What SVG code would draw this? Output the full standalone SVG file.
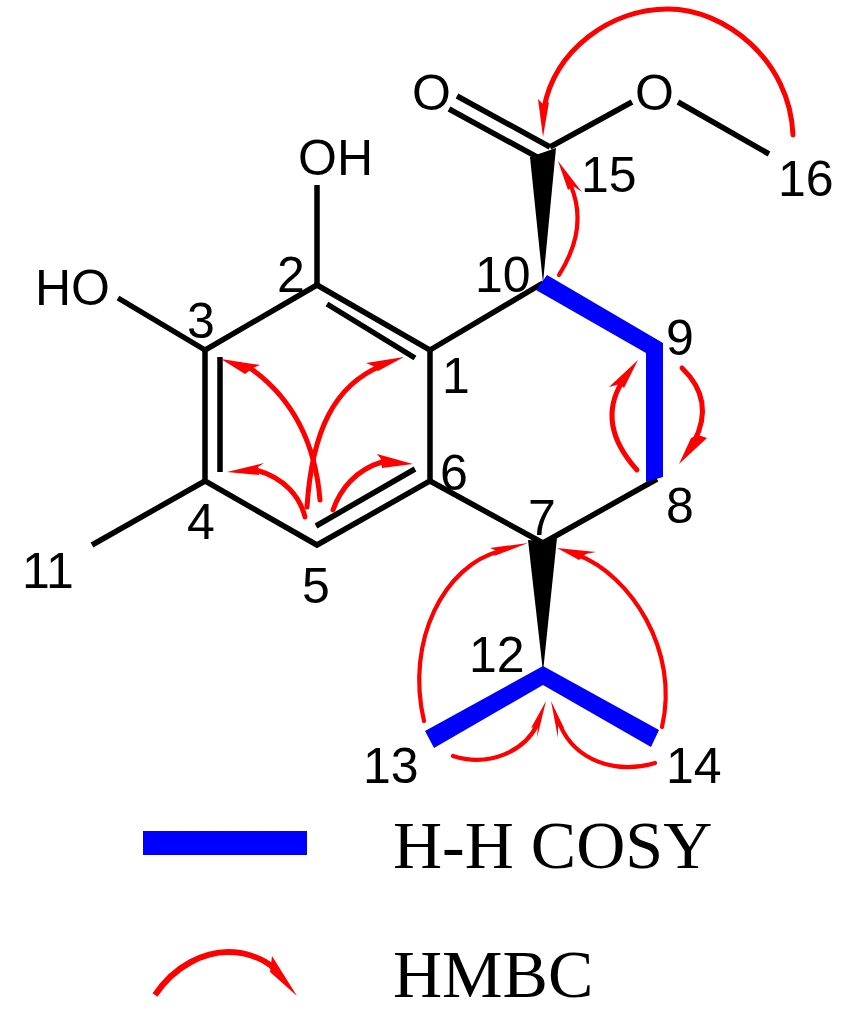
<svg xmlns="http://www.w3.org/2000/svg" width="846" height="1013" viewBox="0 0 846 1013">
<style>
.bond{stroke:#000;stroke-width:5.5;fill:none;stroke-linecap:butt;stroke-linejoin:miter}
.wedge{fill:#000}
.cosy{fill:#00f}
.hmbc{fill:none;stroke:#f00;stroke-width:5;stroke-linecap:round}
.thin{stroke-width:4.2}
.head{fill:#f00}
text{font-family:"Liberation Sans",Arial,sans-serif;font-size:50px;fill:#000}
text.legend{font-family:"Liberation Serif","Times New Roman",serif;font-size:68px}
</style>
<rect width="846" height="1013" fill="#fff"/>
<g id="connectors">
<g id="bonds">
<path class="bond" d="M317,285L430,350L430,481L317,545L205,481L205,350L317,285"/>
<path class="bond" d="M327,304L415,358M220,357V472M316,526L415,469"/>
<path class="bond" d="M317,285V185M205,350L118,298M205,481L92,545"/>
<path class="bond" d="M430,350L543,283M430,481L543,543L657,479"/>
<path class="bond" d="M457,96L550,147M449,109L537,157M550,147L632,102M678,102L769,154"/>
</g>
<g id="wedges">
<polygon class="wedge" points="530,157 556,148 543,283"/>
<polygon class="wedge" points="528,540 543,541 557,538 543,672"/>
</g>
<g id="cosy">
<polygon class="cosy" points="547,275 663,343 663,477 646,482 646,353 536,290"/>
<polygon class="cosy" points="425,731 543,666 659,730 651,747 543,685 434,748"/>
</g>
<g id="hmbc">
<path class="hmbc" d="M793,135C790,60 725,9 668,9C610,9 555,50 544,108"/>
<polygon class="head" points="543,137 538,99 544,105 549,102"/>
<path class="hmbc thin" d="M559,275C578,245 583,215 571,186"/>
<polygon class="head" points="558,161 582,192 573,186 568,190"/>
<path class="hmbc" d="M320,500C315,440 290,395 247,366"/>
<polygon class="head" points="221,359 260,365 253,368 245,374"/>
<path class="hmbc" d="M307,507C312,430 335,385 381,366"/>
<polygon class="head" points="404,357 366,363 373,366 378,371"/>
<path class="hmbc" d="M305,517C300,497 285,478 256,470"/>
<polygon class="head" points="227,472 264,463 258,467 259,475"/>
<path class="hmbc" d="M333,510C340,490 355,470 382,462"/>
<polygon class="head" points="413,464 377,454 381,459 382,468"/>
<path class="hmbc" d="M637,470C610,440 605,410 622,382"/>
<polygon class="head" points="638,360 609,387 620,384 624,388"/>
<path class="hmbc" d="M682,368C705,390 708,415 694,442"/>
<polygon class="head" points="679,464 707,438 698,435 691,438"/>
<path class="hmbc thin" d="M424,721C405,640 445,565 500,551"/>
<polygon class="head" points="528,543 490,548 497,551 494,556"/>
<path class="hmbc thin" d="M662,727C680,650 630,575 578,555"/>
<polygon class="head" points="557,548 596,552 586,554 579,560"/>
<path class="hmbc thin" d="M453,756C490,768 525,750 537,725"/>
<polygon class="head" points="546,701 537,738 538,725 531,728"/>
<path class="hmbc thin" d="M655,763C615,775 575,760 560,725"/>
<polygon class="head" points="551,701 564,728 558,726 558,738"/>
</g>
</g>
<g id="atom-O-carbonyl"><text x="412" y="110">O</text></g>
<g id="atom-O-ester"><text x="635" y="110">O</text></g>
<g id="atom-OH"><text x="298" y="175">OH</text></g>
<g id="atom-HO"><text x="35" y="305">HO</text></g>
<g id="label-1"><text x="442" y="393">1</text></g>
<g id="label-2"><text x="277" y="292">2</text></g>
<g id="label-3"><text x="187" y="338">3</text></g>
<g id="label-4"><text x="187" y="539">4</text></g>
<g id="label-5"><text x="302" y="603">5</text></g>
<g id="label-6"><text x="440" y="490">6</text></g>
<g id="label-7"><text x="528" y="535">7</text></g>
<g id="label-8"><text x="666" y="523">8</text></g>
<g id="label-9"><text x="666" y="355">9</text></g>
<g id="label-10"><text x="475" y="292">10</text></g>
<g id="label-11"><text x="22" y="588">11</text></g>
<g id="label-12"><text x="469" y="672">12</text></g>
<g id="label-13"><text x="363" y="783">13</text></g>
<g id="label-14"><text x="666" y="783">14</text></g>
<g id="label-15"><text x="581" y="192">15</text></g>
<g id="label-16"><text x="778" y="196">16</text></g>
<g id="legend-cosy">
<rect class="cosy" x="143" y="831" width="164" height="24"/>
<text class="legend" x="393" y="868">H-H COSY</text>
</g>
<g id="legend-hmbc">
<path d="M155,995C175,965 205,952 228,952C245,952 262,958 274,968" fill="none" stroke="#f00" stroke-width="6"/>
<polygon class="head" points="297,996 272,956 270,972"/>
<text class="legend" x="393" y="997">HMBC</text>
</g>
</svg>
